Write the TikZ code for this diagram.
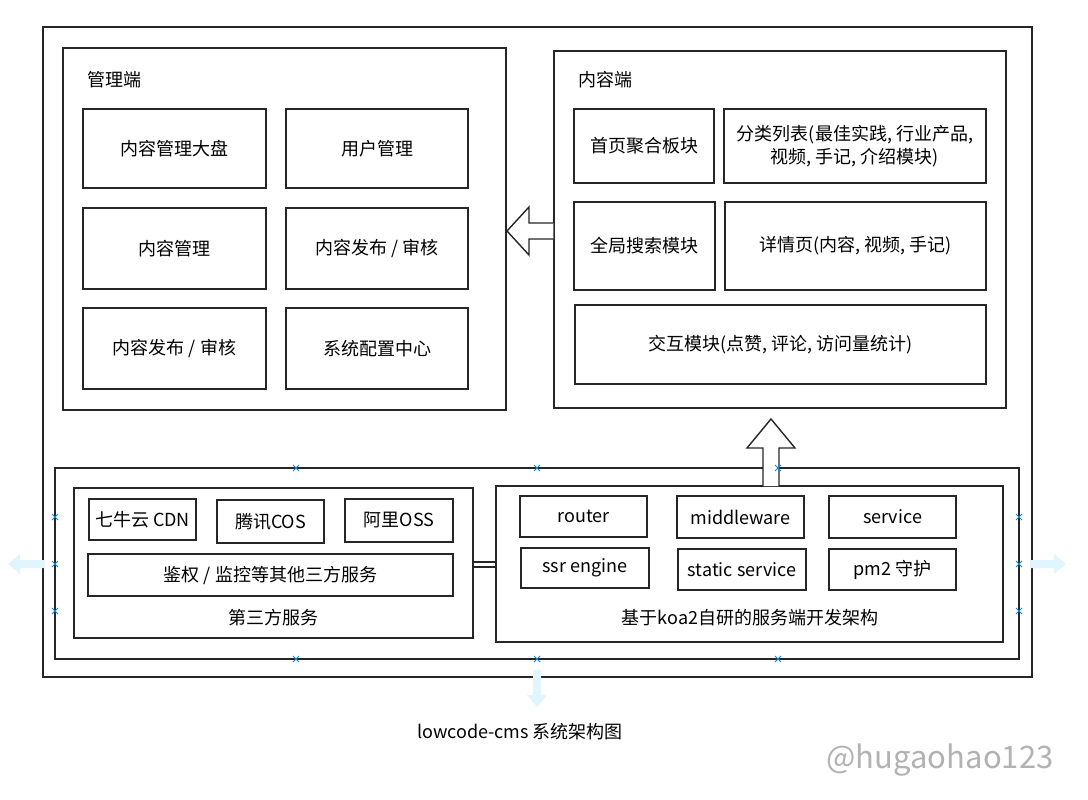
\documentclass[tikz,border=0pt]{standalone}
\usepackage{fontspec}
\setmainfont{Noto Sans CJK SC}
\begin{document}
\begin{tikzpicture}[x=1pt,y=-1pt,
  frame/.style={draw=black!85,line width=1.4pt,fill=white},
  box/.style={draw=black!85,line width=1.4pt,fill=white,inner sep=0pt,align=center,font=\fontsize{18}{23}\selectfont},
  lbl/.style={inner sep=0pt,font=\fontsize{18}{23}\selectfont},
  xmark/.style={draw=cyan!70!blue,line width=0.8pt},
  ghost/.style={fill=cyan!12,draw=none}]
\useasboundingbox (0,0) rectangle (1088,800);
\fill[white] (0,0) rectangle (1088,800);
\newcommand\bx[6]{\node[box,minimum width=#4-#2,minimum height=#5-#3] (#1) at ({(#2+#4)/2},{(#3+#5)/2}) {#6};}
% outer
\node[frame,minimum width=989,minimum height=650,inner sep=0pt] (outer) at (537.5,352) {};
% admin
\node[frame,minimum width=443,minimum height=362,inner sep=0pt] (admin) at (284.5,229) {};
\node[lbl,anchor=west] (adminl) at (87,80) {管理端};
\bx{a1}{83}{109}{266}{188}{内容管理大盘}
\bx{a2}{286}{109}{468}{188}{用户管理}
\bx{a3}{83}{208}{266}{289}{内容管理}
\bx{a4}{286}{208}{468}{289}{内容发布 / 审核}
\bx{a5}{83}{308}{266}{389}{内容发布 / 审核}
\bx{a6}{286}{308}{468}{389}{系统配置中心}
% content
\node[frame,minimum width=452,minimum height=357,inner sep=0pt] (content) at (780,229.5) {};
\node[lbl,anchor=west] (contentl) at (578,80) {内容端};
\bx{c1}{574}{109}{714}{183}{首页聚合板块}
\bx{c2}{724}{109}{986}{183}{分类列表(最佳实践, 行业产品,\\视频, 手记, 介绍模块)}
\bx{c3}{574}{202}{715}{290}{全局搜索模块}
\bx{c4}{725}{202}{986}{290}{详情页(内容, 视频, 手记)}
\bx{c5}{575}{305}{986}{384}{交互模块(点赞, 评论, 访问量统计)}
% bottom group
\node[frame,minimum width=964,minimum height=191,inner sep=0pt] (group) at (537,563.5) {};
\node[frame,minimum width=399,minimum height=150,inner sep=0pt] (third) at (273.5,563) {};
\bx{t1}{89}{499}{196}{540}{七牛云 CDN}
\bx{t2}{217}{500}{324}{543}{腾讯COS}
\bx{t3}{345}{499}{453}{542}{阿里OSS}
\bx{t4}{88}{554}{453}{596}{鉴权 / 监控等其他三方服务}
\node[lbl] (thirdl) at (273,618) {第三方服务};
\node[frame,minimum width=507,minimum height=156,inner sep=0pt] (koa) at (749.5,564) {};
\bx{k1}{520}{496}{647}{537}{router}
\bx{k2}{677}{496}{804}{538}{middleware}
\bx{k3}{829}{496}{956}{538}{service}
\bx{k4}{521}{548}{649}{588}{ssr engine}
\bx{k5}{678}{549}{806}{590}{static service}
\bx{k6}{829}{549}{956}{590}{pm2 守护}
\node[lbl] (koal) at (750,618) {基于koa2自研的服务端开发架构};
% double line connector
\draw[black!85,line width=1.2pt] (third.east|-0,562) -- (koa.west|-0,562);
\draw[black!85,line width=1.2pt] (third.east|-0,567) -- (koa.west|-0,567);
% block arrows
\draw[black!85,line width=1.4pt,fill=white,line join=miter] (content.west|-0,223) -- (529,223) -- (529,207) -- (507,231) -- (529,255) -- (529,239) -- (content.west|-0,239);
\draw[black!85,line width=1.4pt,fill=white,line join=miter] (763,486) -- (763,448) -- (747,448) -- (771,419) -- (795,448) -- (779,448) -- (779,486);
% ghost artifacts
\fill[ghost] (8,564) -- (20,554) -- (20,560) -- (45,560) -- (45,568) -- (20,568) -- (20,574) -- cycle;
\fill[ghost] (1066,564) -- (1054,554) -- (1054,560) -- (1030,560) -- (1030,568) -- (1054,568) -- (1054,574) -- cycle;
\fill[ghost] (537,707) -- (527,695) -- (533,695) -- (533,670) -- (541,670) -- (541,695) -- (547,695) -- cycle;
\foreach \p in {(296,468),(537,468),(778,468),(296,659),(537,659),(778,659),(55,517),(55,564),(55,611),(1019,517),(1019,564),(1019,611)}{
  \draw[xmark] \p ++(-3,-3) -- ++(6,6) \p ++(-3,3) -- ++(6,-6);}
% title & watermark
\node[lbl] (title) at (520,732) {lowcode-cms 系统架构图};
\node[inner sep=0pt,text=black!30,font=\fontsize{31}{35}\selectfont] (wm) at (940,760) {@hugaohao123};
\end{tikzpicture}
\end{document}
